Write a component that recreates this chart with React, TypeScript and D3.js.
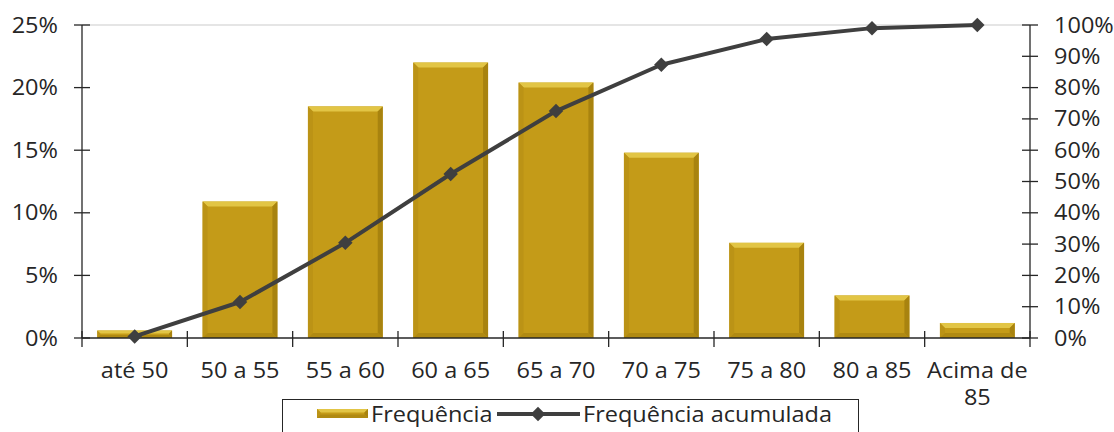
import React from "react";
import * as d3 from "d3";

const categories = ["até 50", "50 a 55", "55 a 60", "60 a 65", "65 a 70", "70 a 75", "75 a 80", "80 a 85", "Acima de 85"];
const frequencia = [0.006, 0.109, 0.185, 0.22, 0.204, 0.148, 0.076, 0.034, 0.012];
const acumulada = [0.005, 0.115, 0.304, 0.524, 0.725, 0.873, 0.955, 0.99, 1.0];
const leftTicks = [0, 0.05, 0.1, 0.15, 0.2, 0.25];
const rightTicks = [0, 0.1, 0.2, 0.3, 0.4, 0.5, 0.6, 0.7, 0.8, 0.9, 1.0];

const W = 1114;
const H = 432;
const X0 = 82;
const X1 = 1030;
const Y0 = 338;
const Y1 = 25;
const FONT = "'Open Sans', 'Noto Sans', sans-serif";
const TEXT = "#262626";
const LINE = "#3f3f3f";
const FS = 21;
const SX = 1.12;

function T({ x, y, anchor = "start", children }: { x: number; y: number; anchor?: string; children: React.ReactNode }) {
  return (
    <g transform={`translate(${x},${y}) scale(${SX},1)`}>
      <text x={0} y={0} textAnchor={anchor} fontSize={FS} fill={TEXT}>
        {children}
      </text>
    </g>
  );
}

function Bar({ x, y, w, h }: { x: number; y: number; w: number; h: number }) {
  const b = Math.min(5, h / 2.5);
  const x2 = x + w;
  const y2 = y + h;
  return (
    <g>
      <rect x={x} y={y} width={w} height={h} fill="#C49B18" />
      <polygon points={`${x},${y} ${x2},${y} ${x2 - b},${y + b} ${x + b},${y + b}`} fill="#E2C545" />
      <polygon points={`${x},${y} ${x + b},${y + b} ${x + b},${y2 - b} ${x},${y2}`} fill="#BB9316" />
      <polygon points={`${x2},${y} ${x2 - b},${y + b} ${x2 - b},${y2 - b} ${x2},${y2}`} fill="#A8830F" />
      <polygon points={`${x},${y2} ${x + b},${y2 - b} ${x2 - b},${y2 - b} ${x2},${y2}`} fill="#B08A12" />
    </g>
  );
}

export default function App() {
  const x = d3.scaleBand<string>().domain(categories).range([X0, X1]).paddingInner(0.29).paddingOuter(0.145);
  const step = (X1 - X0) / categories.length;
  const yL = d3.scaleLinear().domain([0, 0.25]).range([Y0, Y1]);
  const yR = d3.scaleLinear().domain([0, 1]).range([Y0, Y1]);
  const cx = (c: string) => (x(c) as number) + x.bandwidth() / 2;
  const line = d3
    .line<number>()
    .x((_, i) => cx(categories[i]))
    .y((d) => yR(d));
  const diamond = d3.symbol().type(d3.symbolSquare).size(105)();
  const pct = d3.format(".0%");

  return (
    <svg width={W} height={H} style={{ position: "absolute", left: 0, top: 0, background: "#fff" }} fontFamily={FONT}>
      <line x1={X0} x2={X1} y1={Y1} y2={Y1} stroke="#dcdcdc" strokeWidth={1.5} />
      {categories.map((c, i) => (
        <Bar key={c} x={x(c) as number} y={yL(frequencia[i])} w={x.bandwidth()} h={Y0 - yL(frequencia[i])} />
      ))}
      {/* left axis */}
      <line x1={X0} x2={X0} y1={Y1} y2={Y0} stroke={TEXT} strokeWidth={1.3} />
      {leftTicks.map((t) => (
        <g key={t}>
          <line x1={X0 - 8} x2={X0 + 8} y1={yL(t)} y2={yL(t)} stroke={TEXT} strokeWidth={1.3} />
          <T x={58} y={yL(t) + 7.5} anchor="end">
            {pct(t)}
          </T>
        </g>
      ))}
      {/* right axis */}
      <line x1={X1} x2={X1} y1={Y1} y2={Y0} stroke={TEXT} strokeWidth={1.3} />
      {rightTicks.map((t) => (
        <g key={t}>
          <line x1={X1 - 8} x2={X1 + 8} y1={yR(t)} y2={yR(t)} stroke={TEXT} strokeWidth={1.3} />
          <T x={1054} y={yR(t) + 7.5}>
            {pct(t)}
          </T>
        </g>
      ))}
      {/* bottom axis */}
      <line x1={X0} x2={X1} y1={Y0} y2={Y0} stroke={TEXT} strokeWidth={1.3} />
      {d3.range(categories.length + 1).map((i) => (
        <line key={i} x1={X0 + i * step} x2={X0 + i * step} y1={Y0 - 7} y2={Y0 + 9} stroke={TEXT} strokeWidth={1.3} />
      ))}
      {categories.map((c) => {
        const parts = c === "Acima de 85" ? ["Acima de", "85"] : [c];
        return (
          <g key={c}>
            {parts.map((p, j) => (
              <T key={j} x={cx(c)} y={378 + j * 27} anchor="middle">
                {p}
              </T>
            ))}
          </g>
        );
      })}
      {/* cumulative line */}
      <path d={line(acumulada) || ""} fill="none" stroke={LINE} strokeWidth={4} strokeLinejoin="round" />
      {acumulada.map((v, i) => (
        <path key={i} d={diamond || ""} transform={`translate(${cx(categories[i])},${yR(v)}) rotate(45)`} fill={LINE} />
      ))}
      {/* legend */}
      <rect x={282.5} y={399.5} width={576} height={45} fill="#fff" stroke={TEXT} strokeWidth={1} />
      <Bar x={317} y={409} w={51} h={9} />
      <T x={371} y={422}>
        Frequência
      </T>
      <line x1={497} x2={580} y1={414} y2={414} stroke={LINE} strokeWidth={4} />
      <path d={diamond || ""} transform="translate(538,414) rotate(45)" fill={LINE} />
      <T x={583} y={422}>
        Frequência acumulada
      </T>
    </svg>
  );
}
